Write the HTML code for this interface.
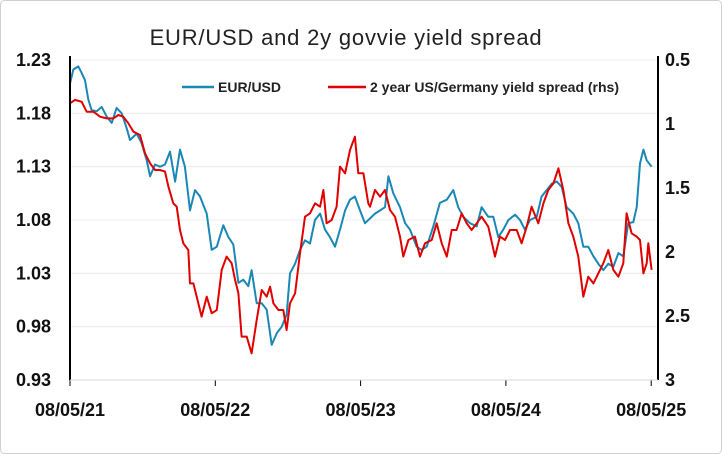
<!DOCTYPE html>
<html><head><meta charset="utf-8"><style>
body{margin:0;background:#fff;}
svg{display:block;font-family:"Liberation Sans",sans-serif;}
</style></head><body>
<svg id="chart" width="722" height="454" viewBox="0 0 722 454">
<rect x="0.5" y="0.5" width="721" height="453" rx="4" fill="#fff" stroke="#d0d0d0"/>
<text x="346" y="45" text-anchor="middle" font-size="22" letter-spacing="0.8" fill="#222">EUR/USD and 2y govvie yield spread</text>
<g id="grid"></g>
<g id="series"></g>
<g id="axes"></g>
<g>
<line x1="182" y1="87" x2="214" y2="87" stroke="#1a87b5" stroke-width="2.5"/>
<text x="218" y="92" font-size="14" font-weight="bold" fill="#222">EUR/USD</text>
<line x1="328" y1="87" x2="366" y2="87" stroke="#e00000" stroke-width="2.5"/>
<text x="370" y="92" font-size="14" font-weight="bold" fill="#222">2 year US/Germany yield spread (rhs)</text>
</g>
</svg>
<script>
const eurT=[0,.023,.057,.080,.103,.126,.149,.184,.218,.252,.287,.321,.356,.390,.413,.459,.493,.528,.551,.585,.619,.654,.688,.723,.757,.791,.826,.860,.895,.941,.975,1.010,1.055,1.090,1.124,1.159,1.193,1.227,1.250,1.285,1.319,1.354,1.388,1.423,1.457,1.491,1.514,1.549,1.583,1.617,1.652,1.686,1.721,1.755,1.789,1.824,1.858,1.893,1.927,1.961,1.996,2.030,2.099,2.134,2.168,2.191,2.225,2.271,2.306,2.340,2.386,2.420,2.455,2.500,2.546,2.593,2.638,2.672,2.707,2.753,2.799,2.833,2.879,2.913,2.948,2.982,3.017,3.063,3.097,3.131,3.166,3.212,3.246,3.281,3.315,3.350,3.384,3.418,3.464,3.498,3.533,3.567,3.602,3.636,3.670,3.705,3.739,3.774,3.808,3.842,3.877,3.900,3.923,3.946,3.969,4.003];
const eurVals=[1.208,1.221,1.224,1.218,1.211,1.193,1.183,1.182,1.186,1.177,1.171,1.185,1.180,1.166,1.155,1.161,1.152,1.136,1.121,1.132,1.130,1.132,1.144,1.116,1.146,1.130,1.089,1.108,1.102,1.086,1.052,1.055,1.075,1.064,1.057,1.021,1.024,1.018,1.033,1.002,1.002,0.996,0.963,0.974,0.980,0.991,1.030,1.039,1.052,1.061,1.058,1.080,1.086,1.071,1.064,1.055,1.071,1.089,1.099,1.102,1.089,1.077,1.086,1.089,1.092,1.121,1.105,1.092,1.077,1.071,1.055,1.052,1.055,1.074,1.096,1.099,1.108,1.092,1.083,1.077,1.074,1.092,1.083,1.083,1.064,1.071,1.080,1.085,1.080,1.071,1.080,1.083,1.102,1.108,1.114,1.116,1.111,1.092,1.086,1.077,1.055,1.055,1.046,1.039,1.033,1.039,1.036,1.049,1.046,1.077,1.078,1.092,1.133,1.146,1.136,1.130];
const sprT=[0,.034,.080,.115,.161,.207,.252,.298,.333,.367,.402,.436,.482,.516,.551,.585,.619,.654,.677,.711,.734,.757,.780,.814,.826,.849,.872,.906,.941,.975,1.010,1.044,1.078,1.113,1.136,1.159,1.181,1.216,1.250,1.285,1.319,1.354,1.377,1.400,1.434,1.468,1.491,1.514,1.549,1.583,1.617,1.652,1.686,1.721,1.744,1.766,1.801,1.835,1.858,1.893,1.927,1.961,1.984,2.019,2.053,2.065,2.099,2.134,2.168,2.202,2.237,2.271,2.294,2.329,2.374,2.409,2.443,2.489,2.524,2.558,2.593,2.627,2.661,2.696,2.730,2.764,2.799,2.833,2.879,2.925,2.959,2.994,3.028,3.074,3.108,3.143,3.177,3.223,3.258,3.292,3.327,3.361,3.395,3.430,3.464,3.498,3.533,3.567,3.602,3.636,3.670,3.705,3.739,3.774,3.808,3.831,3.865,3.900,3.923,3.946,3.969,3.980,4.003];
const sprVals=[0.838,0.812,0.826,0.904,0.904,0.943,0.956,0.956,0.930,0.943,0.995,1.060,1.086,1.229,1.307,1.359,1.359,1.372,1.490,1.620,1.646,1.828,1.932,1.984,2.245,2.245,2.349,2.505,2.349,2.479,2.453,2.140,2.036,2.088,2.219,2.323,2.661,2.661,2.792,2.531,2.297,2.349,2.271,2.401,2.453,2.453,2.609,2.401,2.323,2.010,1.724,1.698,1.620,1.646,1.516,1.776,1.750,1.646,1.333,1.385,1.203,1.099,1.385,1.385,1.620,1.646,1.516,1.568,1.516,1.672,1.724,1.880,2.036,1.906,1.880,2.036,1.932,1.906,1.776,1.932,2.036,1.828,1.828,1.698,1.776,1.828,1.776,1.724,1.802,2.036,1.880,1.906,1.828,1.828,1.932,1.802,1.646,1.776,1.620,1.516,1.464,1.346,1.516,1.776,1.880,2.036,2.349,2.193,2.245,2.167,2.088,1.984,2.140,2.193,2.088,1.698,1.854,1.880,1.906,2.167,2.088,1.932,2.140];
const leftTicks=[1.23,1.18,1.13,1.08,1.03,0.98,0.93];
const rightTicks=[0.5,1,1.5,2,2.5,3];
const xLabels=["08/05/21","08/05/22","08/05/23","08/05/24","08/05/25"];
const xTickYears=[0,1,2,3,4];

const NS="http://www.w3.org/2000/svg";
const X0=70,X1=658,Y0=60,Y1=380,PXY=145.3;
const xS=t=>X0+t*PXY;
const yL=v=>Y0+(1.23-v)/0.30*(Y1-Y0);
const yR=v=>Y0+(v-0.5)/2.5*(Y1-Y0);
function mk(tag,attrs,parent){const e=document.createElementNS(NS,tag);for(const k in attrs)e.setAttribute(k,attrs[k]);parent.appendChild(e);return e;}
const grid=document.getElementById('grid'),axes=document.getElementById('axes'),ser=document.getElementById('series');
leftTicks.forEach(v=>{
  if(v>0.94){const g=mk('line',{x1:X0,x2:X1,y1:yL(v),y2:yL(v),stroke:'#ececec','stroke-width':1},grid);
  
  }
  const t=mk('text',{x:51,y:yL(v)+6,'text-anchor':'end','font-size':18,'font-weight':'bold',fill:'#111'},axes);
  t.textContent=v.toFixed(2);
  
  
});
rightTicks.forEach(v=>{
  const t=mk('text',{x:665,y:yR(v)+6,'font-size':18,'font-weight':'bold',fill:'#111'},axes);
  t.textContent=String(v);
  
  
});
xLabels.forEach((s,i)=>{
  const t=mk('text',{x:xS(xTickYears[i]),y:416,'text-anchor':'middle','font-size':18,'font-weight':'bold',fill:'#111'},axes);
  t.textContent=s;
  
  
  const k=mk('line',{x1:xS(xTickYears[i]),x2:xS(xTickYears[i]),y1:Y1,y2:Y1+6,stroke:'#000','stroke-width':1},axes);
  
  
});
const la=mk('line',{x1:X0,x2:X0,y1:Y0-4,y2:Y1,stroke:'#000','stroke-width':2},axes);


const ra=mk('line',{x1:X1,x2:X1,y1:Y0-4,y2:Y1,stroke:'#000','stroke-width':2},axes);


const ba=mk('line',{x1:X0,x2:X1,y1:Y1,y2:Y1,stroke:'#d9d9d9','stroke-width':1},axes);


const pts=(ts,vs,f)=>ts.map((t,i)=>xS(t).toFixed(1)+','+f(vs[i]).toFixed(1)).join(' ');
const blue=mk('polyline',{points:pts(eurT,eurVals,yL),fill:'none',stroke:'#1a87b5','stroke-width':2,'stroke-linejoin':'round'},ser);


const red=mk('polyline',{points:pts(sprT,sprVals,yR),fill:'none',stroke:'#e00000','stroke-width':2,'stroke-linejoin':'round'},ser);


</script>
</body></html>
